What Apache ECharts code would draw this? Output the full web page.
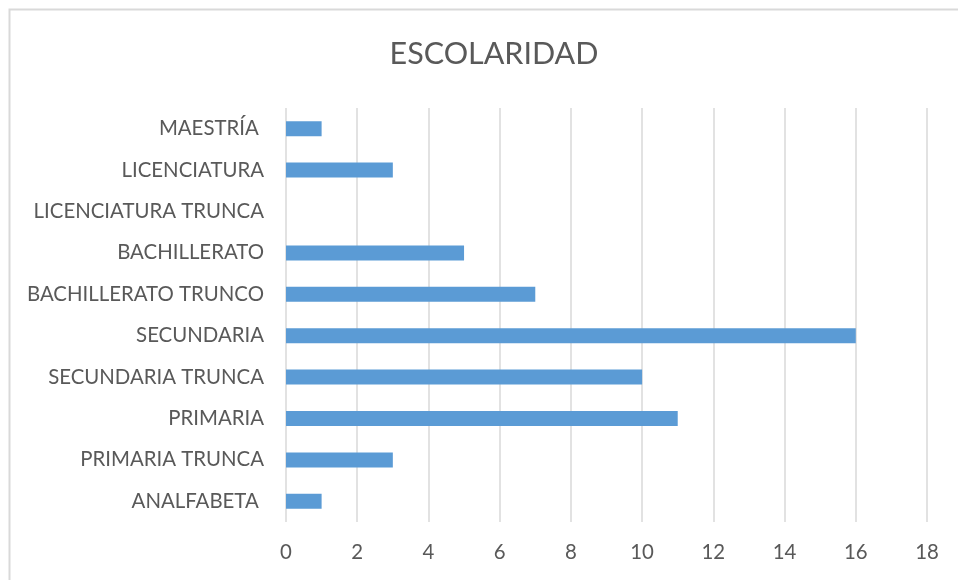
<!DOCTYPE html>
<html><head><meta charset="utf-8">
<script src="https://cdn.jsdelivr.net/npm/echarts@6/dist/echarts.min.js"></script>
<style>html,body{margin:0;padding:0;background:#fff}#c{width:958px;height:580px}</style>
</head><body><div id="c"></div>
<script>
const categories = ['ANALFABETA ', 'PRIMARIA TRUNCA', 'PRIMARIA', 'SECUNDARIA TRUNCA', 'SECUNDARIA', 'BACHILLERATO TRUNCO', 'BACHILLERATO', 'LICENCIATURA TRUNCA', 'LICENCIATURA', 'MAESTRÍA '];
const values = [1, 3, 11, 10, 16, 7, 5, 0, 3, 1];
const xTicks = [0, 2, 4, 6, 8, 10, 12, 14, 16, 18];
const titleText = 'ESCOLARIDAD';

const font = 'Lato, "Open Sans", sans-serif';
const chart = echarts.init(document.getElementById('c'), null, {renderer: 'canvas'});
chart.setOption({
  animation: false,
  graphic: [{type: 'rect', shape: {x: 9.5, y: 9.5, width: 980, height: 600}, style: {fill: 'none', stroke: '#d9d9d9', lineWidth: 2}, silent: true, z: -1}],
  title: {text: titleText, left: 489, top: 34, textAlign: 'center',
    textStyle: {fontFamily: font, fontSize: 30.5, fontWeight: 'normal', color: '#595959'}},
  grid: {left: 286, right: 31, top: 108, bottom: 58, containLabel: false},
  xAxis: {type: 'value', min: xTicks[0], max: xTicks[xTicks.length - 1], interval: 2,
    axisLine: {show: false}, axisTick: {show: false},
    splitLine: {show: true, lineStyle: {color: '#d9d9d9', width: 1.5}},
    axisLabel: {fontFamily: font, fontSize: 20.4, color: '#595959', margin: 20}},
  yAxis: {type: 'category', data: categories,
    axisLine: {show: false}, axisTick: {show: false}, splitLine: {show: false},
    axisLabel: {fontFamily: font, fontSize: 20.4, color: '#595959', margin: 22}},
  series: [{type: 'bar', data: values, barWidth: 15, itemStyle: {color: '#5b9bd5'}}]
});
</script></body></html>
